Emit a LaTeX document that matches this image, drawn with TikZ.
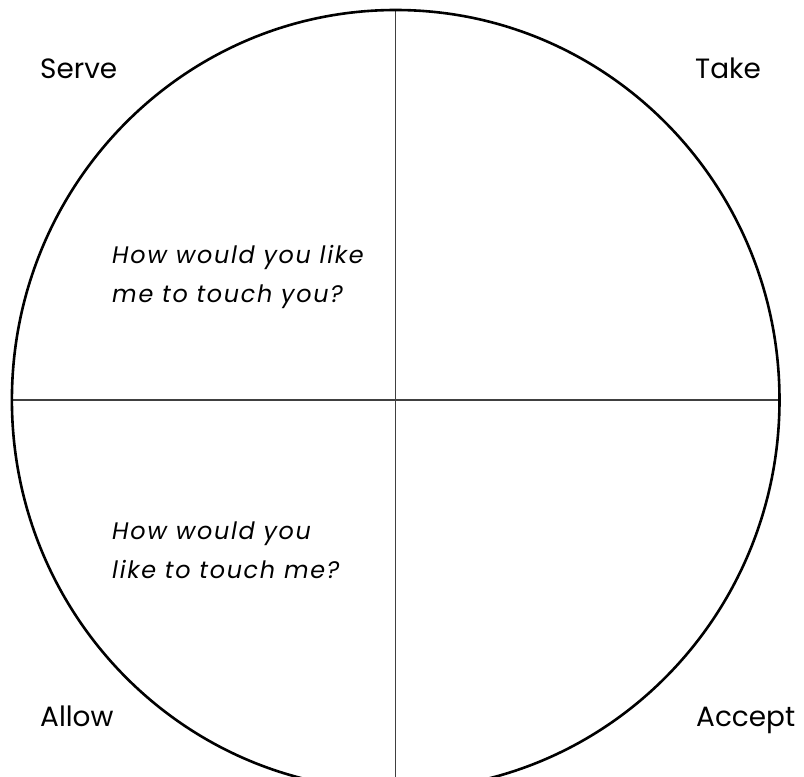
\documentclass[tikz,border=0pt]{standalone}
\usepackage{fontspec}
\setmainfont{Poppins}
\newfontfamily\qfont[LetterSpace=7]{Poppins}
\begin{document}
\begin{tikzpicture}[x=1bp,y=-1bp,
  label/.style={inner sep=0pt,anchor=base west,font=\fontsize{28}{34}\selectfont},
  question/.style={inner sep=0pt,anchor=base west,align=left,font=\qfont\fontsize{24}{39}\selectfont\itshape},
  ring/.style={draw=black,line width=2.6bp},
  divider/.style={draw=black!75,line width=1.1bp}]
\useasboundingbox (0,0) rectangle (804,777);
\begin{scope}
\clip (0,0) rectangle (804,777);
\coordinate (c) at (395.7,400);
\coordinate (top) at (395.7,10);
\coordinate (bot) at (395.7,790);
\coordinate (lft) at (12,400);
\coordinate (rgt) at (779.5,400);
\draw[divider] (top) -- (bot);
\draw[divider] (lft) -- (rgt);
\draw[ring] (c) ellipse [x radius=383.8, y radius=390];
\end{scope}
\node[label] (serve) at (40,79) {Serve};
\node[label] (take) at (695,79) {Take};
\node[label] (allow) at (40,726) {Allow};
\node[label] (accept) at (696,726) {Accept};
\node[question] (q1) at (112,302) {How would you like\\me to touch you?};
\node[question] (q2) at (112,578) {How would you\\like to touch me?};
\end{tikzpicture}
\end{document}
